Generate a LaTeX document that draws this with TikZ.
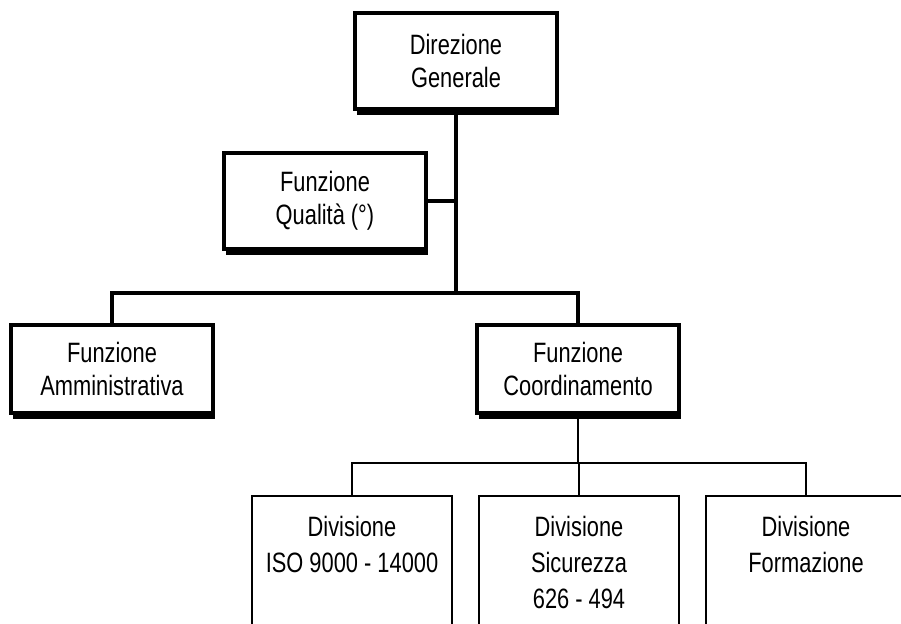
\documentclass[tikz,border=0pt]{standalone}
\usepackage{fontspec}
\setmainfont{Liberation Sans}[FakeStretch=0.78]
\usepackage{tikz}
\usetikzlibrary{shadows}

\begin{document}
\begin{tikzpicture}[x=1pt, y=-1pt,
	headbox/.style={draw, line width=3.5pt, fill=white, minimum width=202pt, minimum height=96pt, align=center,
		font=\fontsize{28}{33}\selectfont,
		drop shadow={shadow xshift=2pt, shadow yshift=-6pt, fill=black, opacity=1}},
	divbox/.style={anchor=north, minimum width=200pt, inner ysep=20pt, align=center,
		font=\fontsize{28}{36}\selectfont},
	trunk/.style={line width=4pt},
	twig/.style={line width=2pt}]
			\clip (0,0) rectangle (901,623);
			\useasboundingbox (0,0) rectangle (901,623);
			\node[headbox] (dir) at (456,61) {Direzione\\Generale};
			\node[headbox] (qual) at (325,201) {Funzione\\Qualità (°)};
			\node[headbox, minimum height=88pt] (amm) at (112,369) {Funzione\\Amministrativa};
			\node[headbox, minimum height=88pt] (coord) at (578,369) {Funzione\\Coordinamento};
			\node[divbox] (iso) at (352,496) {Divisione\\ISO 9000 - 14000};
			\node[divbox] (sic) at (579,496) {Divisione\\Sicurezza\\626 - 494};
			\node[divbox] (form) at (806,496) {Divisione\\Formazione};
			\foreach \n in {iso, sic, form}
				\draw[twig] (\n.north west) rectangle ([yshift=-200pt]\n.north east);
			\coordinate (jtop) at (457,293);
			\coordinate (jbot) at (578,463);
			\draw[trunk] (dir.south) -- (dir.south |- jtop);
			\draw[trunk] (qual.east) -- (qual.east -| dir.south);
			\draw[trunk] (amm.north) |- (jtop) -| (coord.north);
			\draw[twig] (coord.south) -- (jbot);
			\draw[twig] (iso.north) |- (jbot) -| (form.north);
			\draw[twig] (sic.north) -- (sic.north |- jbot);
		\end{tikzpicture}
\end{document}
